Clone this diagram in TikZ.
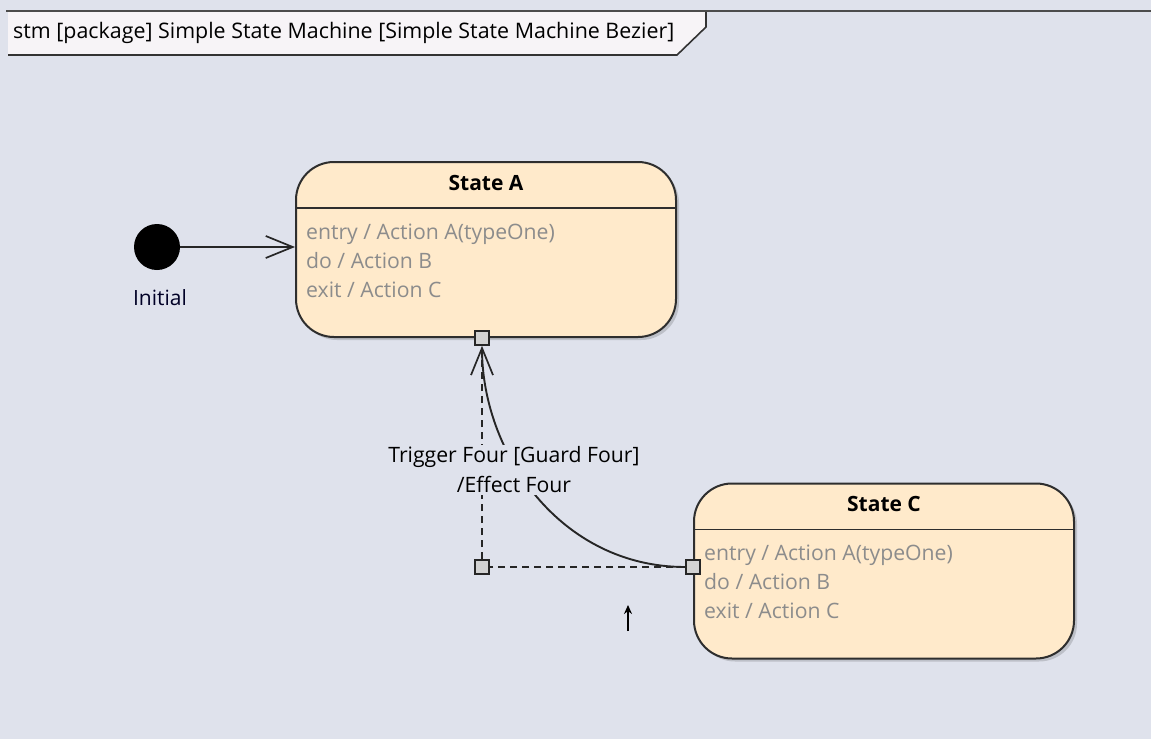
\documentclass[tikz,border=0pt]{standalone}
\usepackage{fontspec}
\setmainfont{Open Sans}
\usetikzlibrary{calc, arrows.meta, shadows}
\definecolor{canvasBg}{HTML}{DFE2EC}
\definecolor{tabFill}{HTML}{F7F4F7}
\definecolor{stateFill}{HTML}{FFEACB}
\definecolor{stateEdge}{HTML}{2E2E2E}
\definecolor{actionText}{HTML}{8C8C8C}
\definecolor{portFill}{HTML}{D2D2D2}
\tikzset{
  frame line/.style={line width=2.8pt, black!70},
  tab line/.style={line width=1.6pt, black!80},
  tab title/.style={font=\fontsize{21.4}{26}\selectfont, text=black, inner sep=0pt},
  state box/.style={draw=stateEdge, line width=2pt, fill=stateFill, rounded corners=38pt,
    minimum width=380pt, minimum height=175pt, inner sep=0pt,
    drop shadow={shadow xshift=3pt, shadow yshift=-3pt, opacity=0.15, fill=black}},
  state line/.style={line width=1.8pt, stateEdge},
  state title/.style={font=\fontsize{21}{26}\selectfont\bfseries, text=black, inner sep=0pt},
  state action/.style={font=\fontsize{21.2}{26}\selectfont, text=actionText, inner sep=0pt},
  initial dot/.style={circle, fill=black, minimum size=46pt, inner sep=0pt},
  plain label/.style={font=\fontsize{21}{26}\selectfont, text=black!85!blue, inner sep=0pt},
  port box/.style={draw=black!85, line width=1.6pt, fill=portFill, minimum size=14pt, inner sep=0pt},
  transition/.style={line width=1.9pt, black!85},
  handle line/.style={line width=1.7pt, black!85, dash pattern=on 7pt off 5pt},
  open tip/.style={-{Straight Barb[length=27pt, width=22pt, line width=1.7pt]}},
  transition label/.style={font=\fontsize{21.2}{30}\selectfont, fill=canvasBg, align=center, inner sep=2pt},
}
\newcommand{\drawStateBox}[3]{
  \node[state box] (#1) at (#2) {};
  \draw[state line] ([yshift=-47pt]#1.north west) -- ([yshift=-47pt]#1.north east);
  \node[state title] (#1 title) at ([yshift=-21.5pt]#1.north) {#3};
  \foreach \act [count=\k] in {entry / Action A(typeOne), do / Action B, exit / Action C}
    \node[state action, anchor=base west] (#1 act\k) at ([xshift=11pt, yshift={-49pt-29pt*\k}]#1.north west) {\act};
}

\begin{document}
\begin{tikzpicture}[x=1pt, y=-1pt]
  \useasboundingbox (0,0) rectangle (1151,739);
  \fill[canvasBg] (0,0) rectangle (1151,739);
  % diagram frame and title tab
  \fill[tabFill] (8,11) -- (706,11) -- (706,27) -- (677,55) -- (8,55) -- cycle;
  \draw[tab line] (8,55) -- (677,55) -- (706,27) -- (706,11);
  \draw[frame line] (6,11) -- (1151,11);
  \node[tab title, anchor=west] (tabTitle) at (13,33) {stm [package] Simple State Machine [Simple State Machine Bezier]};

  \drawStateBox{stateA}{486,249.5}{State A}
  \drawStateBox{stateC}{884,571}{State C}

  \node[initial dot] (init) at (157,247) {};
  \node[plain label] (initLabel) at (160,298) {Initial};
  \draw[transition, open tip] (init) -- (init -| stateA.west);

  % transition with bezier handles
  \node[port box] (portA) at ([xshift=-4pt]stateA.south) {};
  \node[port box] (portC) at ([yshift=4pt]stateC.west) {};
  \node[port box] (ctrlHandle) at (portA |- portC) {};
  \draw[handle line] (portC) -- (ctrlHandle);
  \draw[handle line] (ctrlHandle) -- (portA);
  \draw[transition, open tip] (portC) .. controls ($(portC)!0.63!(ctrlHandle)$) and ($(portA)!0.5!(ctrlHandle)$) .. (portA);
  \node[transition label] (trigLabel) at (514,470) {Trigger Four [Guard Four]\\/Effect Four};

  \coordinate (cursorTail) at (628,631);
  \coordinate (cursorTip) at (628,605);
  \draw[line width=1.6pt, -{Stealth[length=9pt, width=8pt]}] (cursorTail) -- (cursorTip);
\end{tikzpicture}
\end{document}
